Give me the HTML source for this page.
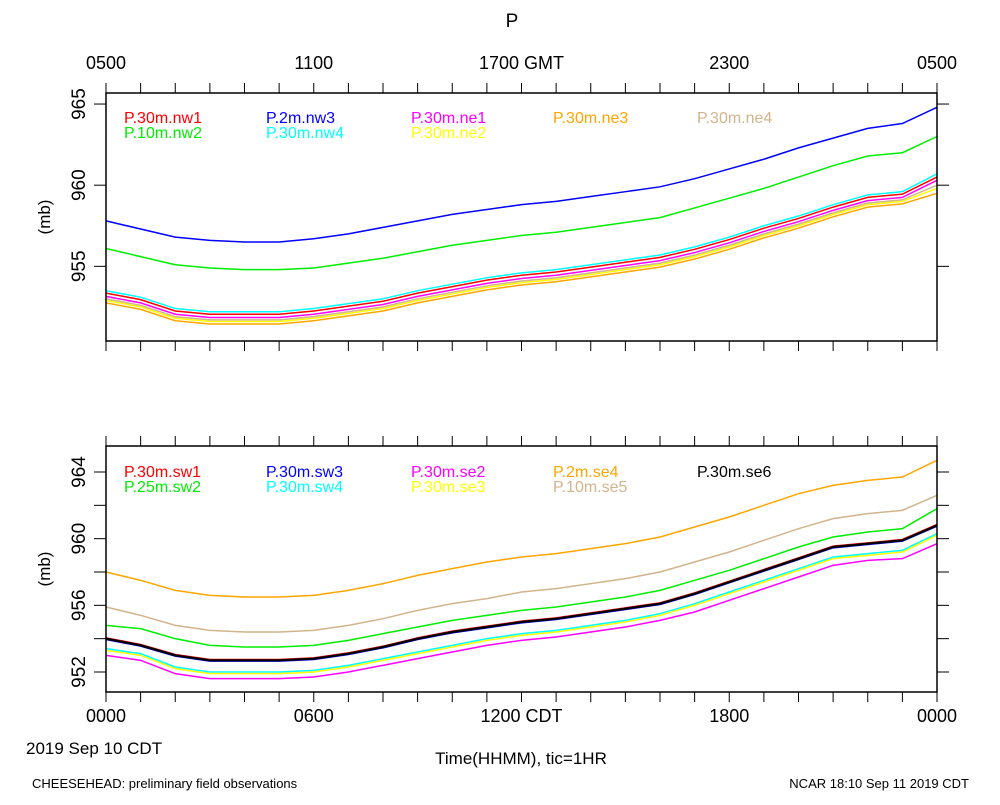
<!DOCTYPE html>
<html><head><meta charset="utf-8">
<style>
body{margin:0;background:#fff;}
svg text{font-family:"Liberation Sans",sans-serif;}
</style></head>
<body>
<svg id="chart" width="1000" height="800" xmlns="http://www.w3.org/2000/svg">
<text x="512" y="27" font-size="19" text-anchor="middle">P</text>
<g id="top-panel"></g>
<g id="bottom-panel"></g>
<text x="26" y="754" font-size="17">2019 Sep 10 CDT</text>
<text x="521" y="764" font-size="17" text-anchor="middle">Time(HHMM), tic=1HR</text>
<text x="32" y="788" font-size="13">CHEESEHEAD: preliminary field observations</text>
<text x="969" y="788" font-size="13" text-anchor="end">NCAR 18:10 Sep 11 2019 CDT</text>
</svg>
<script>
const hours = [0,1,2,3,4,5,6,7,8,9,10,11,12,13,14,15,16,17,18,19,20,21,22,23,24];
const topTickLabels = ["0500","1100","1700 GMT","2300","0500"];
const bottomTickLabels = ["0000","0600","1200 CDT","1800","0000"];
const topYTicks = [955,960,965];
const bottomYTicks = [952,956,960,964];
const bottomYMinor = [954,958,962];
const topNames = ["P.30m.nw1","P.10m.nw2","P.2m.nw3","P.30m.nw4","P.30m.ne1","P.30m.ne2","P.30m.ne3","P.30m.ne4"];
const topSlots = [[0,0],[0,1],[1,0],[1,1],[2,0],[2,1],[3,0],[4,0]];
const topColors = ["#ff0000","#00ee00","#0000ff","#00ffff","#ff00ff","#ffff00","#ffa500","#d2b48c"];
const nw3 = [957.8,957.3,956.8,956.6,956.5,956.5,956.7,957.0,957.4,957.8,958.2,958.5,958.8,959.0,959.3,959.6,959.9,960.4,961.0,961.6,962.3,962.9,963.5,963.8,964.8];
const nw2 = [956.1,955.6,955.1,954.9,954.8,954.8,954.9,955.2,955.5,955.9,956.3,956.6,956.9,957.1,957.4,957.7,958.0,958.6,959.2,959.8,960.5,961.2,961.8,962.0,963.0];
const nw4 = [953.5,953.1,952.4,952.2,952.2,952.2,952.4,952.7,953.0,953.5,953.9,954.3,954.6,954.8,955.1,955.4,955.7,956.2,956.8,957.5,958.1,958.8,959.4,959.6,960.7];
const nw1 = [953.35,952.95,952.25,952.05,952.05,952.05,952.25,952.55,952.85,953.35,953.75,954.15,954.45,954.65,954.95,955.25,955.55,956.05,956.65,957.35,957.95,958.65,959.25,959.45,960.5];
const ne1 = [953.15,952.75,952.05,951.85,951.85,951.85,952.05,952.35,952.65,953.15,953.55,953.95,954.25,954.45,954.75,955.05,955.35,955.85,956.45,957.15,957.75,958.45,959.05,959.25,960.3];
const ne4 = [953.0,952.6,951.9,951.7,951.7,951.7,951.9,952.2,952.5,953.0,953.4,953.8,954.1,954.3,954.6,954.9,955.2,955.7,956.3,957.0,957.6,958.3,958.9,959.1,960.0];
const ne2 = [952.9,952.5,951.8,951.6,951.6,951.6,951.8,952.1,952.4,952.9,953.3,953.7,954.0,954.2,954.5,954.8,955.1,955.6,956.2,956.9,957.5,958.2,958.8,959.0,959.8];
const ne3 = [952.75,952.35,951.65,951.45,951.45,951.45,951.65,951.95,952.25,952.75,953.15,953.55,953.85,954.05,954.35,954.65,954.95,955.45,956.05,956.75,957.35,958.05,958.65,958.85,959.5];
const topSeries = [nw1,nw2,nw3,nw4,ne1,ne2,ne3,ne4];

const bottomNames = ["P.30m.sw1","P.25m.sw2","P.30m.sw3","P.30m.sw4","P.30m.se2","P.30m.se3","P.2m.se4","P.10m.se5","P.30m.se6"];
const bottomSlots = [[0,0],[0,1],[1,0],[1,1],[2,0],[2,1],[3,0],[3,1],[4,0]];
const bottomColors = ["#ff0000","#00ee00","#0000ff","#00ffff","#ff00ff","#ffff00","#ffa500","#d2b48c","#000000"];
const se4 = [958.0,957.5,956.9,956.6,956.5,956.5,956.6,956.9,957.3,957.8,958.2,958.6,958.9,959.1,959.4,959.7,960.1,960.7,961.3,962.0,962.7,963.2,963.5,963.7,964.7];
const se5 = [955.9,955.4,954.8,954.5,954.4,954.4,954.5,954.8,955.2,955.7,956.1,956.4,956.8,957.0,957.3,957.6,958.0,958.6,959.2,959.9,960.6,961.2,961.5,961.7,962.6];
const sw2 = [954.8,954.6,954.0,953.6,953.5,953.5,953.6,953.9,954.3,954.7,955.1,955.4,955.7,955.9,956.2,956.5,956.9,957.5,958.1,958.8,959.5,960.1,960.4,960.6,961.8];
const sw1 = [954.05,953.65,953.05,952.75,952.75,952.75,952.85,953.15,953.55,954.05,954.45,954.75,955.05,955.25,955.55,955.85,956.15,956.75,957.45,958.15,958.85,959.55,959.75,959.95,960.85];
const sw3 = [953.95,953.55,952.95,952.65,952.65,952.65,952.75,953.05,953.45,953.95,954.35,954.65,954.95,955.15,955.45,955.75,956.05,956.65,957.35,958.05,958.75,959.45,959.65,959.85,960.75];
const se6 = [954.0,953.6,953.0,952.7,952.7,952.7,952.8,953.1,953.5,954.0,954.4,954.7,955.0,955.2,955.5,955.8,956.1,956.7,957.4,958.1,958.8,959.5,959.7,959.9,960.8];
const sw4 = [953.4,953.1,952.3,952.0,952.0,952.0,952.1,952.4,952.8,953.2,953.6,954.0,954.3,954.5,954.8,955.1,955.5,956.1,956.8,957.5,958.2,958.9,959.1,959.3,960.3];
const se3 = [953.3,953.0,952.2,951.9,951.9,951.9,952.0,952.3,952.7,953.1,953.5,953.9,954.2,954.4,954.7,955.0,955.4,956.0,956.7,957.4,958.1,958.8,959.0,959.2,960.2];
const se2 = [953.0,952.7,951.9,951.6,951.6,951.6,951.7,952.0,952.4,952.8,953.2,953.6,953.9,954.1,954.4,954.7,955.1,955.6,956.3,957.0,957.7,958.4,958.7,958.8,959.7];
const bottomSeries = [sw1,sw2,sw3,sw4,se2,se3,se4,se5,se6];

const NS="http://www.w3.org/2000/svg";
function mk(parent,tag,attrs){const e=document.createElementNS(NS,tag);for(const k in attrs)e.setAttribute(k,attrs[k]);parent.appendChild(e);return e;}
const X0=106,X1=937;
function xs(h){return X0+(X1-X0)*h/24;}

function panel(g,top,bot,ymin,ymax,yticks,yminor,series,colors,names,slots,tickLabels,labelsAbove,legendY,lineW){
  const ys=v=>bot-(v-ymin)/(ymax-ymin)*(bot-top);
  series.forEach((s,i)=>{
    const p=mk(g,'polyline',{points:s.map((v,j)=>xs(hours[j])+','+ys(v)).join(' '),fill:'none',stroke:colors[i],'stroke-width':lineW[i]||1.5});
    
    
  });
  const r=mk(g,'rect',{x:X0,y:top,width:X1-X0,height:bot-top,fill:'none',stroke:'#000','stroke-width':1.5});
  
  
  for(let h=0;h<=24;h++){
    const x=xs(h);
    mk(g,'line',{x1:x,x2:x,y1:top,y2:top-10,stroke:'#000','stroke-width':1});
    mk(g,'line',{x1:x,x2:x,y1:bot,y2:bot+10,stroke:'#000','stroke-width':1});
  }
  yticks.forEach(v=>{
    const y=ys(v);
    mk(g,'line',{x1:X0,x2:X0-12,y1:y,y2:y,stroke:'#000'});
    mk(g,'line',{x1:X1,x2:X1+12,y1:y,y2:y,stroke:'#000'});
    const t=mk(g,'text',{x:0,y:0,'font-size':19,'text-anchor':'middle',transform:`translate(85,${y}) rotate(-90)`});
    t.textContent=v;
    
    
  });
  yminor.forEach(v=>{
    const y=ys(v);
    mk(g,'line',{x1:X0,x2:X0-12,y1:y,y2:y,stroke:'#000'});
    mk(g,'line',{x1:X1,x2:X1+12,y1:y,y2:y,stroke:'#000'});
  });
  const yl=mk(g,'text',{x:0,y:0,'font-size':17,'text-anchor':'middle',transform:`translate(50,${(top+bot)/2}) rotate(-90)`});
  yl.textContent='(mb)';
  
  
  tickLabels.forEach((l,i)=>{
    const t=mk(g,'text',{x:xs(i*6),y:labelsAbove?top-24:bot+30,'font-size':18,'text-anchor':'middle'});
    t.textContent=l;
    
    
  });
  const lx=[124,266,411,553,697];
  names.forEach((n,i)=>{
    const col=slots[i][0], row=slots[i][1];
    const t=mk(g,'text',{x:lx[col],y:legendY+row*15,'font-size':16,fill:colors[i]});
    t.textContent=n;
    
    
  });
}
panel(document.getElementById('top-panel'),93,341,950.4,965.68,topYTicks,[],topSeries,topColors,topNames,topSlots,topTickLabels,true,123,[]);
panel(document.getElementById('bottom-panel'),446,692,950.8,965.56,bottomYTicks,bottomYMinor,bottomSeries,bottomColors,bottomNames,bottomSlots,bottomTickLabels,false,477,[1.5,1.5,1.5,1.5,1.5,1.5,1.5,1.5,2.2]);
</script>
</body></html>
